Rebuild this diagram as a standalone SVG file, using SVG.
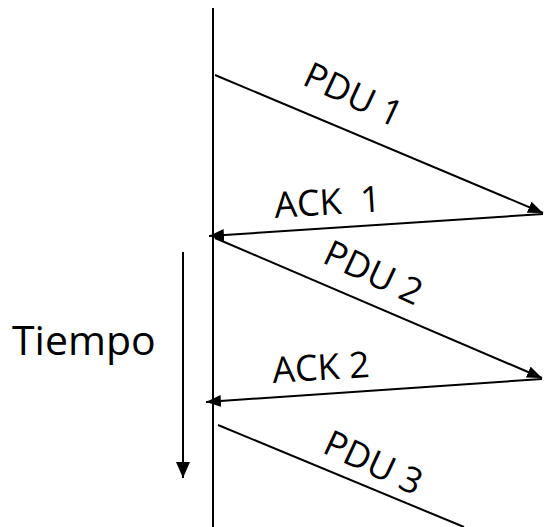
<svg xmlns="http://www.w3.org/2000/svg" width="544" height="527" viewBox="0 0 544 527">
<style>
.ln{stroke:#000;stroke-width:2;fill:none}
.lb{font-family:"Open Sans","Liberation Sans",sans-serif;font-size:36px;fill:#000}
</style>
<defs>
<marker id="ah" viewBox="0 0 15 12" refX="15" refY="6" markerWidth="15" markerHeight="12" markerUnits="userSpaceOnUse" orient="auto">
<path d="M0,0 L15,6 L0,12 Z" fill="#000"/>
</marker>
<marker id="ah2" viewBox="0 0 16 14" refX="16" refY="7" markerWidth="16" markerHeight="14" markerUnits="userSpaceOnUse" orient="auto">
<path d="M0,0 L16,7 L0,14 Z" fill="#000"/>
</marker>
</defs>
<rect width="544" height="527" fill="#fff"/>
<g id="timeline"><line class="ln" x1="213" y1="8" x2="213" y2="527"/></g>
<g id="connectors">
<line class="ln" x1="215" y1="75" x2="543" y2="213" marker-end="url(#ah)"/>
<line class="ln" x1="543" y1="214" x2="209" y2="236" marker-end="url(#ah)"/>
<line class="ln" x1="215" y1="238" x2="542" y2="378" marker-end="url(#ah)"/>
<line class="ln" x1="542" y1="379" x2="206" y2="402" marker-end="url(#ah)"/>
<line class="ln" x1="218" y1="425" x2="464" y2="527"/>
<line class="ln" x1="183" y1="252" x2="183" y2="478" marker-end="url(#ah2)"/>
</g>
<g id="labels">
<text class="lb" x="301" y="84" transform="rotate(25 301 84)">PDU 1</text>
<text class="lb" x="275" y="218" transform="rotate(-3.6 275 218)" xml:space="preserve">ACK  1</text>
<text class="lb" x="321" y="262" transform="rotate(25 321 262)">PDU 2</text>
<text class="lb" x="273" y="383" transform="rotate(-3.6 273 383)">ACK 2</text>
<text class="lb" x="321" y="452" transform="rotate(25 321 452)">PDU 3</text>
<text class="lb" x="12" y="355" style="font-size:41px">Tiempo</text>
</g>
</svg>
